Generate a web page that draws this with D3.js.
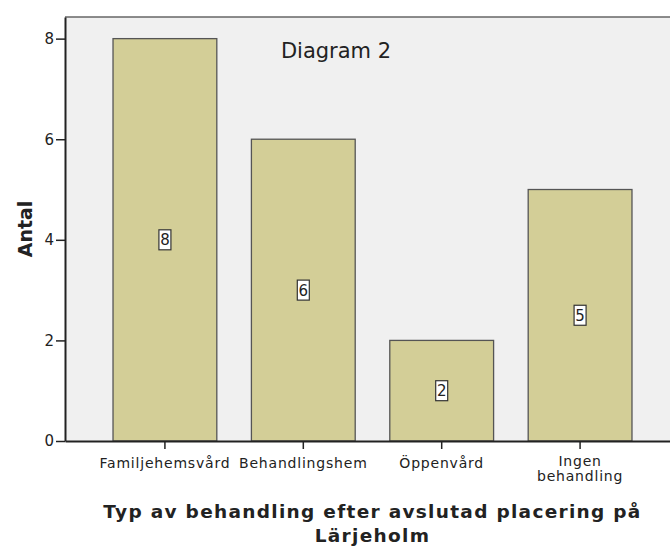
<!DOCTYPE html>
<html>
<head>
<meta charset="utf-8">
<script src="https://cdn.jsdelivr.net/npm/d3@7"></script>
<style>
  body { margin: 0; background: #fff; }
  text { font-family: "DejaVu Sans", Verdana, sans-serif; }
</style>
</head>
<body>
<div id="chart"></div>
<script>
const categories = ["Familjehemsvård", "Behandlingshem", "Öppenvård", "Ingen behandling"];
const counts = [8, 6, 2, 5];
const yTicks = [0, 2, 4, 6, 8];

const width = 670, height = 548;
const plotLeft = 65, plotRight = 680, plotTop = 17, plotBottom = 441;

const svg = d3.select("#chart").append("svg")
    .attr("width", width)
    .attr("height", height);

const x = d3.scaleBand()
    .domain(categories)
    .range([plotLeft, plotRight])
    .paddingInner(0.25)
    .paddingOuter(0.347);

const y = d3.scaleLinear()
    .domain([0, 8.43])
    .range([plotBottom, plotTop]);

// plot background
svg.append("rect")
    .attr("x", plotLeft).attr("y", plotTop)
    .attr("width", plotRight - plotLeft).attr("height", plotBottom - plotTop)
    .attr("fill", "#f0f0f0");
svg.append("line")
    .attr("x1", plotLeft).attr("x2", plotRight)
    .attr("y1", plotTop).attr("y2", plotTop)
    .attr("stroke", "#666").attr("stroke-width", 1.5);

// bars
svg.append("g").selectAll("rect")
    .data(counts)
    .join("rect")
    .attr("x", (d, i) => x(categories[i]))
    .attr("y", d => y(d))
    .attr("width", x.bandwidth())
    .attr("height", d => y(0) - y(d))
    .attr("fill", "#d3ce97")
    .attr("stroke", "#555")
    .attr("stroke-width", 1.3);

// value labels
const lab = svg.append("g").selectAll("g")
    .data(counts)
    .join("g")
    .attr("transform", (d, i) => `translate(${x(categories[i]) + x.bandwidth() / 2},${y(d / 2)})`);
lab.append("rect")
    .attr("x", -6).attr("y", -10)
    .attr("width", 12).attr("height", 20)
    .attr("fill", "#fff")
    .attr("stroke", "#333").attr("stroke-width", 1.2);
lab.append("text")
    .attr("text-anchor", "middle")
    .attr("dy", "0.36em")
    .attr("font-size", 15)
    .attr("font-family", "DejaVu Sans Condensed, sans-serif")
    .attr("fill", "#222")
    .text(d => d);

// y axis
const yAxis = svg.append("g")
    .attr("transform", `translate(${plotLeft},0)`)
    .call(d3.axisLeft(y).tickValues(yTicks).tickSize(9).tickPadding(2).tickSizeOuter(0));
yAxis.select(".domain").attr("stroke", "#222").attr("stroke-width", 2);
yAxis.selectAll(".tick line").attr("stroke", "#222").attr("stroke-width", 1.5);
yAxis.selectAll(".tick text").attr("font-size", 15).attr("fill", "#222")
    .attr("font-family", "DejaVu Sans Condensed, sans-serif");

// x axis
const xAxis = svg.append("g")
    .attr("transform", `translate(0,${plotBottom})`)
    .call(d3.axisBottom(x).tickSize(8).tickSizeOuter(0));
xAxis.select(".domain").attr("stroke", "#222").attr("stroke-width", 2);
xAxis.selectAll(".tick line").attr("stroke", "#222").attr("stroke-width", 1.5);
xAxis.selectAll(".tick text")
    .attr("font-size", 14)
    .attr("letter-spacing", 0.8)
    .attr("fill", "#222")
    .attr("y", 27)
    .attr("dy", 0)
    .each(function (d) {
        const t = d3.select(this);
        if (d === "Ingen behandling") {
            t.text(null);
            t.append("tspan").attr("x", 0).attr("y", 25).text("Ingen");
            t.append("tspan").attr("x", 0).attr("y", 40).text("behandling");
        }
    });

// title
svg.append("text")
    .attr("x", 336).attr("y", 58)
    .attr("text-anchor", "middle")
    .attr("font-size", 21)
    .attr("fill", "#222")
    .text("Diagram 2");

// y label
svg.append("text")
    .attr("transform", `translate(32,${(plotTop + plotBottom) / 2}) rotate(-90)`)
    .attr("text-anchor", "middle")
    .attr("font-size", 19)
    .attr("font-weight", "bold")
    .attr("fill", "#222")
    .text("Antal");

// x label
const xl = svg.append("text")
    .attr("text-anchor", "middle")
    .attr("font-size", 18.5)
    .attr("letter-spacing", 1.3)
    .attr("font-weight", "bold")
    .attr("fill", "#222");
xl.append("tspan").attr("x", (plotLeft + plotRight) / 2).attr("y", 518)
    .text("Typ av behandling efter avslutad placering på");
xl.append("tspan").attr("x", (plotLeft + plotRight) / 2).attr("y", 542)
    .text("Lärjeholm");
</script>
</body>
</html>
